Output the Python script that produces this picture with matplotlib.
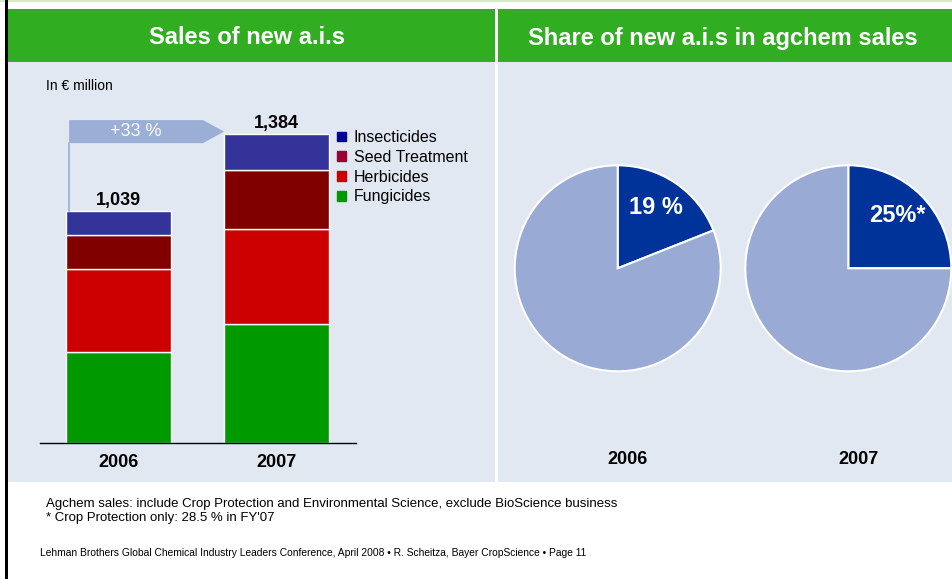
import matplotlib
matplotlib.use("Agg")
import matplotlib.pyplot as plt
from matplotlib.patches import Rectangle, Polygon, Patch
import numpy as np

plt.rcParams['font.family'] = ['Liberation Sans', 'DejaVu Sans']

# ---- data ----
years = ['2006', '2007']
fungicides = [407, 532]
herbicides = [373, 425]
seed_treatment = [150, 264]
insecticides = [109, 163]
totals = ['1,039', '1,384']
growth_label = '+33 %'

share_years = ['2006', '2007']
share_new = [19, 25]
share_labels = ['19 %', '25%*']

W, H = 952, 579
GREEN = '#31AD22'
PANEL = '#E1E8F1'

fig = plt.figure(figsize=(W / 100, H / 100), dpi=100)
fig.patch.set_facecolor('white')

# background / decoration axes in pixel coordinates
bg = fig.add_axes([0, 0, 1, 1])
bg.set_xlim(0, W)
bg.set_ylim(H, 0)
bg.axis('off')
bg.add_patch(Rectangle((0, 0), W, 2, color='#D6EBC8', lw=0))
bg.add_patch(Rectangle((5, 0), 2.5, H, color='black', lw=0))
bg.add_patch(Rectangle((8, 9), 487, 53, color=GREEN, lw=0))
bg.add_patch(Rectangle((498, 9), W - 498, 53, color=GREEN, lw=0))
bg.add_patch(Rectangle((8, 62), 487, 420, color=PANEL, lw=0))
bg.add_patch(Rectangle((498, 62), W - 498, 420, color=PANEL, lw=0))

bg.text(247, 38, 'Sales of new a.i.s', color='white', fontsize=17,
        fontweight='bold', ha='center', va='center')
bg.text(723, 38, 'Share of new a.i.s in agchem sales', color='white',
        fontsize=17, fontweight='bold', ha='center', va='center')
bg.text(46, 86, 'In € million', fontsize=10, ha='left', va='center')

bg.text(46, 504, 'Agchem sales: include Crop Protection and Environmental Science, '
        'exclude BioScience business', fontsize=9.5, ha='left', va='center')
bg.text(46, 518, "* Crop Protection only: 28.5 % in FY'07", fontsize=9.5,
        ha='left', va='center')
bg.text(40, 553, 'Lehman Brothers Global Chemical Industry Leaders Conference, '
        'April 2008 • R. Scheitza, Bayer CropScience • Page 11',
        fontsize=7.4, ha='left', va='center')


def px_rect(x0, y0, x1, y1):
    return [x0 / W, 1 - y1 / H, (x1 - x0) / W, (y1 - y0) / H]


# ---- stacked bars ----
ax = fig.add_axes(px_rect(40, 100, 356, 443))
ax.patch.set_alpha(0)
x = np.arange(len(years))
bw = 0.665
series = [fungicides, herbicides, seed_treatment, insecticides]
names = ['Fungicides', 'Herbicides', 'Seed Treatment', 'Insecticides']
bar_colors = ['#009900', '#CC0000', '#800000', '#333399']
legend_colors = ['#009900', '#CC0000', '#990033', '#000099']
bottom = np.zeros(len(years))
for vals, c in zip(series, bar_colors):
    ax.bar(x, vals, bw, bottom=bottom, color=c, edgecolor='white', linewidth=1)
    bottom += np.array(vals)

ax.set_xlim(-0.497, 1.503)
ax.set_ylim(0, 343 / 0.2233)
for xi, tot, lab in zip(x, bottom, totals):
    ax.text(xi, tot + 8, lab, ha='center', va='bottom', fontsize=13,
            fontweight='bold')

for s in ['top', 'right', 'left']:
    ax.spines[s].set_visible(False)
ax.spines['bottom'].set_linewidth(1)
ax.set_yticks([])
ax.set_xticks(x)
ax.set_xticklabels(years, fontsize=13, fontweight='bold')
ax.tick_params(axis='x', length=0, pad=8)

# growth arrow
ay0, ay1 = 1343, 1446
ax0 = x[0] - bw / 2 + 0.02
ax_tip = x[1] - bw / 2
arrow_col = '#9AAED6'
ax.plot([ax0, ax0], [bottom[0], ay0], color=arrow_col, lw=1.2, clip_on=False)
ax.add_patch(Polygon([[ax0, ay0], [ax0, ay1], [0.535, ay1], [ax_tip, (ay0 + ay1) / 2],
                      [0.535, ay0]], closed=True, color=arrow_col, lw=0,
                     clip_on=False))
ax.text((ax0 + 0.535) / 2, (ay0 + ay1) / 2, growth_label, color='white',
        fontsize=13, ha='center', va='center')

handles = [Patch(color=c) for c in legend_colors[::-1]]
ax.legend(handles, names[::-1], loc='upper left', bbox_to_anchor=(337 / W, 1 - 130 / H),
          bbox_transform=fig.transFigure, frameon=False, fontsize=11.5,
          handlelength=0.55, handleheight=0.55, handletextpad=0.5,
          labelspacing=0.3, borderpad=0, borderaxespad=0)

# ---- pies ----
pie_centers = [617.7, 848.3]
r = 103
for cx, val, lab, yr in zip(pie_centers, share_new, share_labels, share_years):
    pax = fig.add_axes(px_rect(cx - r, 268.3 - r, cx + r, 268.3 + r))
    pax.pie([val, 100 - val], colors=['#003399', '#99AAD4'], startangle=90,
            counterclock=False, radius=1,
            wedgeprops=dict(edgecolor='white', linewidth=1.5))
    pax.set_xlim(-1, 1)
    pax.set_ylim(-1, 1)
    pax.set_aspect('equal')
    pax.axis('off')
    pax.patch.set_alpha(0)
    ang = np.deg2rad(90 - val * 3.6 / 2 + 2)
    pax.text(0.70 * np.cos(ang), 0.70 * np.sin(ang), lab, color='white',
             fontsize=17, fontweight='bold', ha='center', va='center')
    bg.text(cx + 10, 459, yr, fontsize=13, fontweight='bold', ha='center',
            va='center')

fig.savefig('out.png', dpi=100)
